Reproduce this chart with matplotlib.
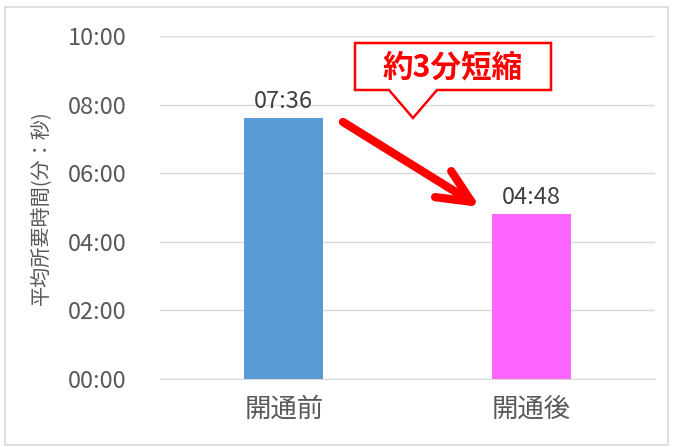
import matplotlib
matplotlib.use("Agg")
import matplotlib.pyplot as plt
from matplotlib.patches import Polygon, Rectangle
from matplotlib.ticker import FuncFormatter, MultipleLocator

plt.rcParams['font.family'] = ['Noto Sans CJK JP', 'DejaVu Sans']

categories = ['開通前', '開通後']
values_sec = [456, 288]          # 07:36, 04:48
bar_colors = ['#5B9BD5', '#FF66FF']
ylabel = '平均所要時間(分：秒)'
callout_text = '約3分短縮'

W, H = 673, 447
fig = plt.figure(figsize=(W/100, H/100), dpi=100)
ax = fig.add_axes([160/W, 1-379/H, 495/W, 343/H])

def fmt(v, pos=None):
    v = int(round(v))
    return f'{v//60:02d}:{v%60:02d}'

x = range(len(categories))
bars = ax.bar(x, values_sec, width=0.32, color=bar_colors, zorder=3)
for xi, v in zip(x, values_sec):
    ax.text(xi, v + 10, fmt(v), ha='center', va='bottom', fontsize=17, color='#404040')

ax.set_xlim(-0.5, 1.5)
ax.set_ylim(0, 600)
ax.yaxis.set_major_locator(MultipleLocator(120))
ax.yaxis.set_major_formatter(FuncFormatter(fmt))
ax.grid(axis='y', color='#D9D9D9', lw=1, zorder=0)
ax.set_xticks(list(x))
ax.set_xticklabels(categories)
ax.tick_params(axis='both', length=0)
ax.tick_params(axis='y', pad=24, labelsize=17, labelcolor='#595959')
ax.tick_params(axis='x', pad=12, labelsize=19, labelcolor='#595959')
for s in ['top', 'right', 'left']:
    ax.spines[s].set_visible(False)
ax.spines['bottom'].set_color('#D9D9D9')
ax.set_ylabel(ylabel, fontsize=14.5, color='#595959')
ax.yaxis.set_label_coords((52-160)/495, 0.5)

# figure border
fig.patches.append(Rectangle((5/W, 1-445/H), 663/W, 438/H, transform=fig.transFigure,
                             fill=False, edgecolor='#D9D9D9', lw=1.2))

# callout
pts = [(355, 43), (551, 43), (551, 90), (437, 90), (413, 118), (389, 90), (355, 90)]
poly = Polygon([(px/W, 1-py/H) for px, py in pts], closed=True, transform=fig.transFigure,
               facecolor='white', edgecolor='#FF0000', lw=1.8, zorder=5)
fig.patches.append(poly)
fig.text(453/W, 1-67/H, callout_text, ha='center', va='center', fontsize=22,
         fontweight='bold', color='#FF0000', zorder=6)

# arrow
ax.annotate('', xy=(480/W, 1-207/H), xytext=(343/W, 1-122/H),
            xycoords='figure fraction', textcoords='figure fraction',
            arrowprops=dict(arrowstyle='->,head_length=1.2,head_width=0.55', lw=6,
                            color='#FF0000', mutation_scale=20, shrinkA=0, shrinkB=0,
                            capstyle='round', joinstyle='round'),
            zorder=6)

fig.savefig('out.png', dpi=100)
